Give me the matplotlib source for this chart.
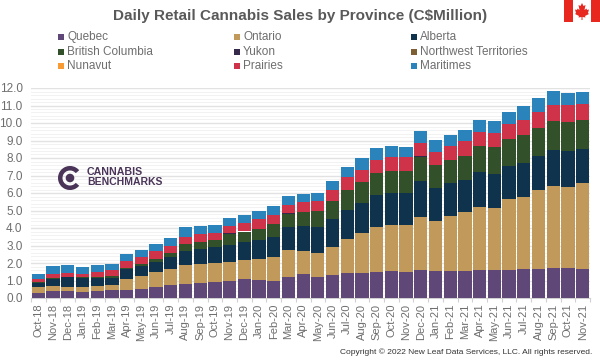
import numpy as np
import matplotlib
matplotlib.use('Agg')
import matplotlib.pyplot as plt
from matplotlib.patches import Rectangle, Polygon, Wedge, Circle

plt.rcParams['font.family'] = ['Liberation Sans', 'DejaVu Sans']

months = ['Oct-18','Nov-18','Dec-18','Jan-19','Feb-19','Mar-19','Apr-19','May-19','Jun-19','Jul-19','Aug-19','Sep-19',
          'Oct-19','Nov-19','Dec-19','Jan-20','Feb-20','Mar-20','Apr-20','May-20','Jun-20','Jul-20','Aug-20','Sep-20',
          'Oct-20','Nov-20','Dec-20','Jan-21','Feb-21','Mar-21','Apr-21','May-21','Jun-21','Jul-21','Aug-21','Sep-21',
          'Oct-21','Nov-21']

quebec = [.30,.40,.40,.36,.38,.45,.45,.54,.62,.72,.80,.86,.93,.97,1.07,1.01,.99,1.20,1.37,1.22,1.31,1.41,1.43,1.49,
          1.52,1.49,1.62,1.54,1.54,1.54,1.62,1.60,1.62,1.66,1.66,1.70,1.70,1.64]
ontario = [.35,.30,.25,.29,.29,.27,.63,.74,.85,.96,1.07,1.06,1.07,1.07,1.08,1.22,1.35,1.54,1.32,1.33,1.62,1.94,2.30,2.59,
           2.67,2.70,2.99,2.84,3.13,3.36,3.60,3.56,4.02,4.09,4.51,4.72,4.66,4.91]
alberta = [.22,.38,.53,.51,.48,.42,.56,.55,.57,.66,.82,.86,.90,.99,1.05,1.07,1.15,1.30,1.42,1.51,1.58,1.68,1.70,1.82,
           1.81,1.81,2.08,1.89,1.88,1.86,1.96,1.94,1.92,1.96,1.94,2.02,2.04,1.96]
bc = [.03,.04,.02,.02,.05,.13,.09,.13,.19,.23,.39,.40,.43,.65,.59,.64,.74,.78,.82,.91,1.01,1.14,1.18,1.22,
      1.26,1.24,1.39,1.31,1.35,1.37,1.49,1.53,1.51,1.60,1.62,1.67,1.66,1.66]
yukon = [.00,.00,.00,.00,.01,.01,.01,.01,.01,.01,.01,.01,.01,.01,.01,.01,.01,.01,.01,.01,.01,.01,.01,.01,
         .01,.01,.01,.01,.01,.01,.01,.01,.01,.01,.01,.01,.01,.01]
nwt = [.00,.00,.00,.00,.00,.00,.00,.00,.00,.00,.00,.00,.00,.00,.00,.00,.00,.00,.00,.00,.00,.00,.00,.00,
       .00,.00,.00,.00,.00,.00,.00,.00,.00,.00,.00,.00,.00,.00]
nunavut = [.00,.00,.00,.00,.00,.00,.00,.00,.00,.00,.00,.00,.00,.00,.00,.00,.00,.00,.00,.00,.00,.00,.00,.00,
           .00,.00,.00,.00,.00,.00,.00,.00,.00,.00,.00,.00,.00,.00]
prairies = [.17,.27,.23,.21,.29,.31,.37,.38,.42,.40,.41,.46,.40,.43,.48,.54,.51,.49,.56,.57,.65,.73,.72,.78,
            .78,.78,.78,.76,.80,.82,.83,.80,.85,.86,.90,.92,.93,.92]
maritimes = [.28,.46,.45,.40,.38,.38,.38,.42,.40,.44,.57,.44,.44,.44,.47,.47,.48,.52,.45,.46,.53,.57,.65,.65,
             .61,.59,.70,.65,.63,.63,.69,.65,.69,.78,.76,.76,.72,.68]

names = ['Quebec','Ontario','Alberta','British Columbia','Yukon','Northwest Territories','Nunavut','Prairies','Maritimes']
series = [quebec, ontario, alberta, bc, yukon, nwt, nunavut, prairies, maritimes]
colors = ['#5f4778','#c19a5b','#10334d','#32512a','#35284a','#7d5f33','#f89b34','#cf3349','#2a83bb']

W, H = 600, 360
fig = plt.figure(figsize=(6, 3.6), dpi=100)
ax = fig.add_axes([31/W, 1-298/H, (590-31)/W, 210/H])

x = np.arange(len(months))
bottom = np.zeros(len(months))
for vals, c in zip(series, colors):
    ax.bar(x, vals, width=0.9, bottom=bottom, color=c, linewidth=0, zorder=3)
    bottom += np.array(vals)

ax.set_xlim(-0.5, len(months)-0.5)
ax.set_ylim(0, 12)
ax.set_yticks(np.arange(0, 12.1, 1))
ax.set_yticklabels(['%.1f' % v for v in np.arange(0, 12.1, 1)])
ax.set_yticks(np.arange(0, 12.01, 0.2), minor=True)
ax.grid(which='major', axis='y', color='#e2e2e2', linewidth=1.0, zorder=0)
ax.grid(which='minor', axis='y', color='#f2f2f2', linewidth=0.7, zorder=0)
ax.tick_params(axis='y', which='both', length=0, labelsize=8.5, labelcolor='#6e6e6e', pad=6)
ax.set_xticks(x)
ax.set_xticklabels(months, rotation=90)
ax.tick_params(axis='x', length=0, labelsize=8, labelcolor='#6e6e6e', pad=4)
# ticks sit between the bars
ax.set_xticks(np.arange(-0.5, len(months)), minor=True)
ax.tick_params(axis='x', which='minor', length=3, width=0.8, color='#d0d0d0')
for s in ['top', 'right', 'left']:
    ax.spines[s].set_visible(False)
ax.spines['bottom'].set_color('#d0d0d0')

fig.text(300/W, 1-16/H, 'Daily Retail Cannabis Sales by Province (C$Million)', ha='center', va='center',
         fontsize=11, fontweight='bold', color='#595959')

# legend, filled row by row
leg_x = [58, 234, 411]
leg_y = [37, 52, 66]
for i, (name, c) in enumerate(zip(names, colors)):
    lx = leg_x[i % 3]
    ly = leg_y[i // 3]
    fig.add_artist(Rectangle((lx/W, 1-(ly+3)/H), 6/W, 6/H, transform=fig.transFigure, color=c, lw=0))
    fig.text((lx+9)/W, 1-ly/H, name, ha='left', va='center', fontsize=8.5, color='#6e6e6e')

# flag
fig.add_artist(Rectangle((564/W, 1-22/H), 9/W, 22/H, transform=fig.transFigure, color='#e8281e', lw=0))
fig.add_artist(Rectangle((591/W, 1-22/H), 9/W, 22/H, transform=fig.transFigure, color='#e8281e', lw=0))
leaf = [(582,3),(580.5,6),(578.5,5),(579.5,10),(577.5,8.5),(577,10),(575,9.5),(576,13),(575,14),(579,16),
        (578.5,17.5),(581.5,17),(581.5,20),(582.5,20),(582.5,17),(585.5,17.5),(585,16),(589,14),(588,13),(589,9.5),
        (587,10),(586.5,8.5),(584.5,10),(585.5,5),(583.5,6)]
fig.add_artist(Polygon([(px/W, 1-py/H) for px, py in leaf], closed=True, transform=fig.transFigure, color='#e8281e', lw=0))

# logo, drawn over the grid in data units so the circles stay round on pixels
logo_ax = fig.add_axes([50/W, 1-196/H, 40/W, 36/H])
logo_ax.set_xlim(50, 90)
logo_ax.set_ylim(196, 160)
logo_ax.axis('off')
purple = '#4a3558'
logo_ax.add_patch(Wedge((70, 178), 12, 40, 320, width=4.5, color=purple, lw=0))
logo_ax.add_patch(Circle((70, 178), 4.3, color=purple, lw=0))
fig.text(87/W, 1-172/H, 'CANNABIS', ha='left', va='center', fontsize=7.7, fontweight='bold', color=purple)
fig.text(87/W, 1-182/H, 'BENCHMARKS', ha='left', va='center', fontsize=7.5, fontweight='bold', color=purple)

fig.text(592/W, 1-352/H, 'Copyright © 2022 New Leaf Data Services, LLC. All rights reserved.', ha='right', va='center',
         fontsize=6.05, color='#333333')

fig.savefig('out.png', dpi=100)
